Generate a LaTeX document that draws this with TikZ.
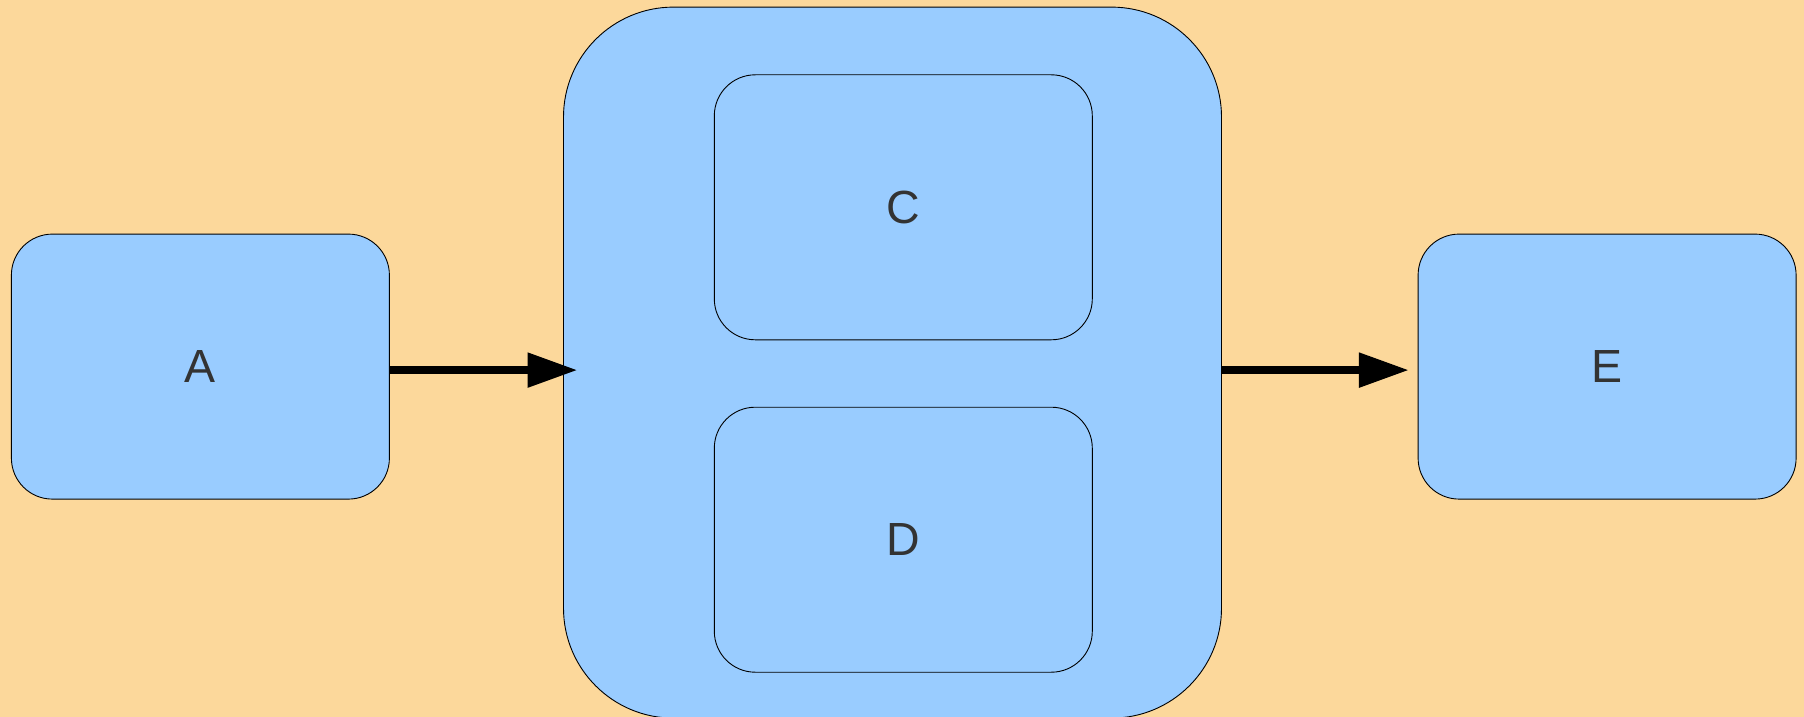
\documentclass[tikz,border=0pt]{standalone}
\usepackage{fontspec}
\setmainfont{Liberation Sans}
\usetikzlibrary{arrows.meta}
\definecolor{sand}{HTML}{FCD89B}
\definecolor{sky}{HTML}{99CCFF}
\definecolor{ink}{HTML}{333333}
\begin{document}
\begin{tikzpicture}[x=1pt,y=-1pt]
	\tikzstyle{block}=[draw=black,line width=0.9pt,fill=sky,rounded corners=41pt,minimum width=378pt,minimum height=265pt,inner sep=0pt,text=ink,font=\fontsize{46.5}{52}\selectfont]
	\tikzstyle{flow}=[-{Triangle[length=50pt,width=33pt]},line width=8.3pt]
	\useasboundingbox (0,0) rectangle (1804,717);
	\fill[sand] (0,0) rectangle (1804,717);
	\node (outer) [block,rounded corners=110pt,minimum width=658pt,minimum height=711pt] at (892.5,362.6) {};
	\node (boxC) [block] at (903.3,207.3) {C};
	\node (boxD) [block] at (903.3,539.7) {D};
	\node (boxA) [block] at (200.4,366.6) {A};
	\node (boxE) [block] at (1607.1,366.6) {E};
	\draw[flow,shorten >=-14.5pt] ([yshift=-3.5pt]boxA.east) -- ([yshift=-3.5pt]boxA.east -| outer.west);
	\draw[flow,shorten >=8.7pt] ([yshift=-3.5pt]boxE.west -| outer.east) -- ([yshift=-3.5pt]boxE.west);
\end{tikzpicture}
\end{document}
